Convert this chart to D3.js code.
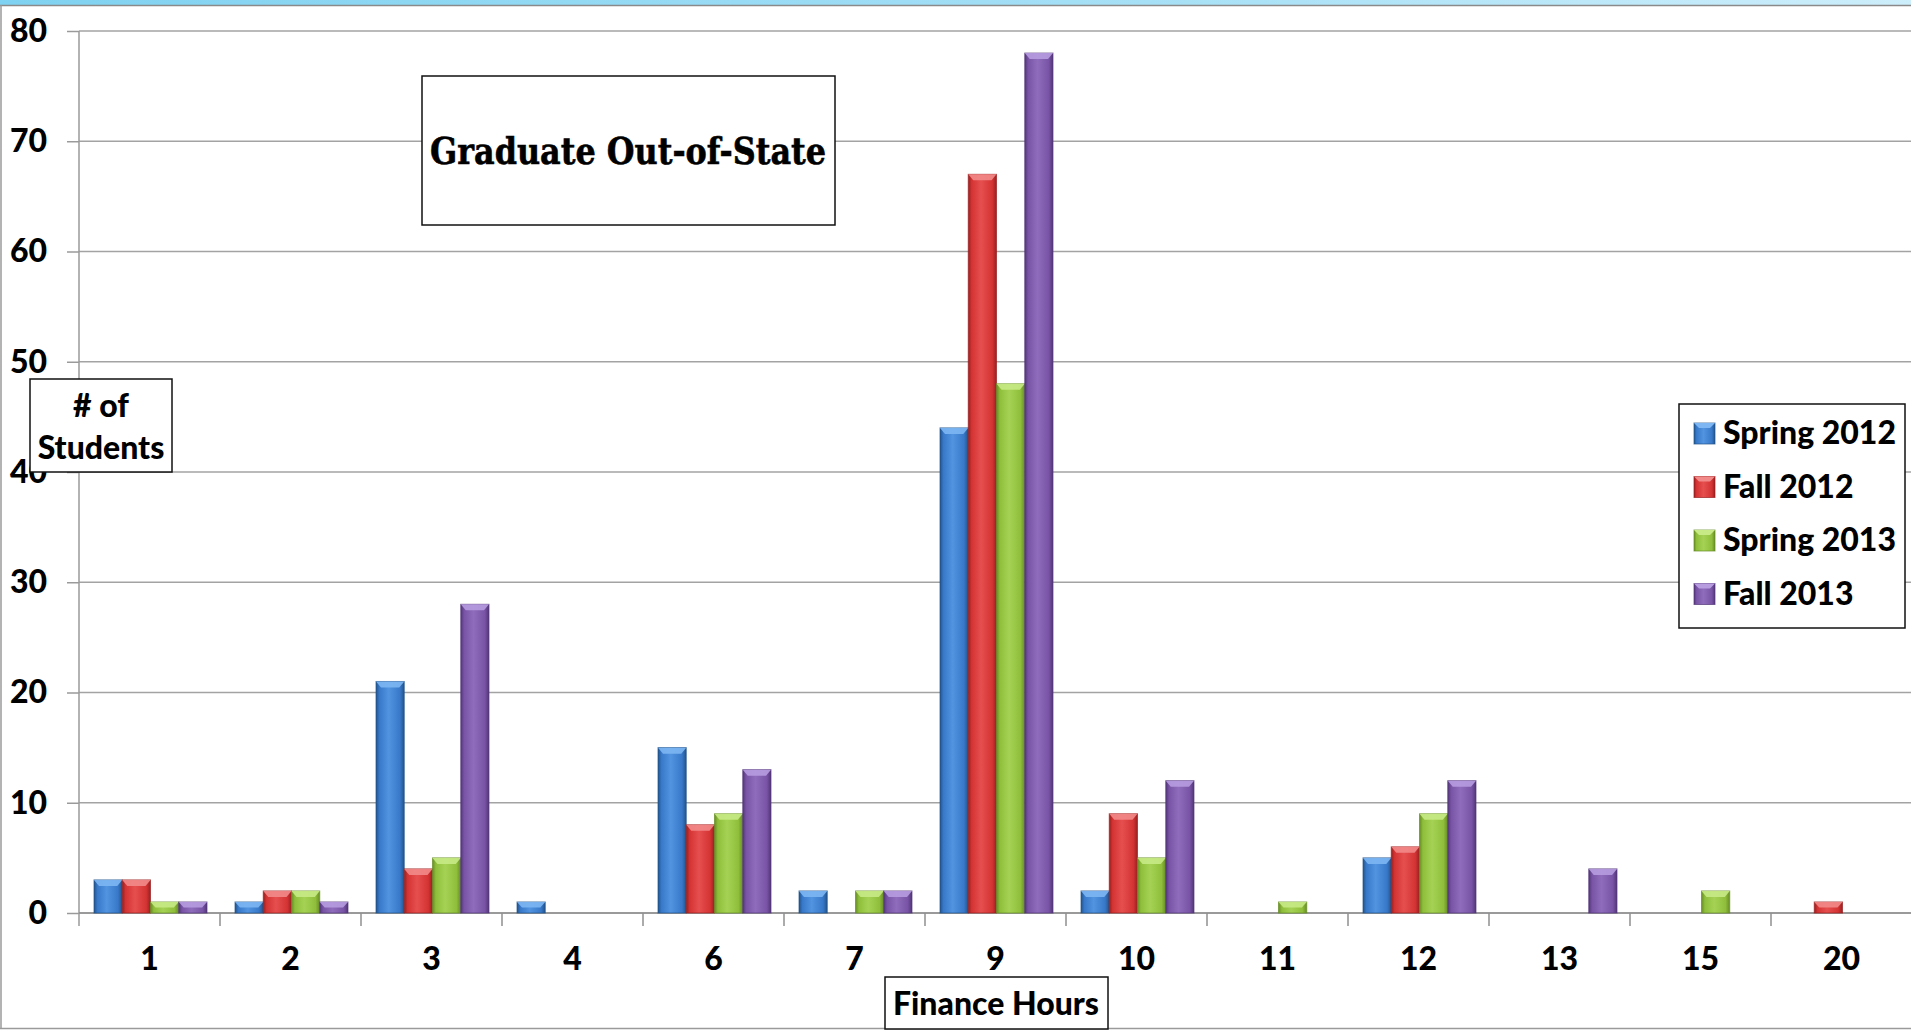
<!DOCTYPE html>
<html>
<head>
<meta charset="utf-8">
<script src="https://cdn.jsdelivr.net/npm/d3@7"></script>
<style>
  html, body { margin: 0; padding: 0; background: #fff; }
  svg { display: block; }
  text { font-family: Lato, "Open Sans", sans-serif; font-weight: 900; fill: #000; }
</style>
</head>
<body>
<svg id="chart" width="1911" height="1031"></svg>
<script>
// Enrolled finance credit hours (categories) and student counts per term
const hours = ["1", "2", "3", "4", "6", "7", "9", "10", "11", "12", "13", "15", "20"];
const terms = ["Spring 2012", "Fall 2012", "Spring 2013", "Fall 2013"];
const spring2012 = [3, 1, 21, 1, 15, 2, 44, 2, 0, 5, 0, 0, 0];
const fall2012   = [3, 2, 4, 0, 8, 0, 67, 9, 0, 6, 0, 0, 1];
const spring2013 = [1, 2, 5, 0, 9, 2, 48, 5, 1, 9, 0, 2, 0];
const fall2013   = [1, 1, 28, 0, 13, 2, 78, 12, 0, 12, 4, 0, 0];
const yTicks = [0, 10, 20, 30, 40, 50, 60, 70, 80];

const seriesValues = [spring2012, fall2012, spring2013, fall2013];
const palette = [
  { base: "#3878c9", dark: "#22548a", light: "#5294e0", cap: "#7db6f2" },
  { base: "#d43333", dark: "#982020", light: "#e64f4f", cap: "#f28a8a" },
  { base: "#8fbe3b", dark: "#668d25", light: "#a5d254", cap: "#c8ea86" },
  { base: "#7954a6", dark: "#523678", light: "#8f6dbc", cap: "#b79ce0" }
];

const svg = d3.select("#chart");
const W = 1911, H = 1031;
const plot = { left: 79, right: 1912, top: 31, bottom: 913 };
const labelSize = 32;

// Frame: light-blue strip on top, thin grey borders
const defs = svg.append("defs");
const strip = defs.append("linearGradient").attr("id", "strip").attr("x1", 0).attr("x2", 1);
strip.append("stop").attr("offset", 0).attr("stop-color", "#7fd2f1");
strip.append("stop").attr("offset", 0.6).attr("stop-color", "#a6e0f6");
strip.append("stop").attr("offset", 1).attr("stop-color", "#cdeefb");
svg.append("rect").attr("x", 0).attr("y", 0).attr("width", W).attr("height", 5).attr("fill", "url(#strip)");
svg.append("line").attr("x1", 0).attr("x2", W).attr("y1", 5.5).attr("y2", 5.5).attr("stroke", "#8a8a8a").attr("stroke-width", 1.5);
svg.append("line").attr("x1", 1).attr("x2", 1).attr("y1", 5).attr("y2", 1029).attr("stroke", "#9a9a9a").attr("stroke-width", 1.5);
svg.append("line").attr("x1", 0).attr("x2", W).attr("y1", 1028.5).attr("y2", 1028.5).attr("stroke", "#9a9a9a").attr("stroke-width", 1.5);

// Bar gradients (cylindrical shading left-to-right)
palette.forEach((c, i) => {
  const g = defs.append("linearGradient").attr("id", "bar" + i).attr("x1", 0).attr("x2", 1).attr("y1", 0).attr("y2", 0);
  g.append("stop").attr("offset", 0).attr("stop-color", c.dark);
  g.append("stop").attr("offset", 0.12).attr("stop-color", c.base);
  g.append("stop").attr("offset", 0.45).attr("stop-color", c.light);
  g.append("stop").attr("offset", 0.85).attr("stop-color", c.base);
  g.append("stop").attr("offset", 1).attr("stop-color", c.dark);
});

const x0 = d3.scaleBand().domain(hours).range([plot.left, plot.right]).paddingInner(0).paddingOuter(0);
const x1 = d3.scaleBand().domain(terms).range([15, x0.bandwidth() - 13]).padding(0);
const y = d3.scaleLinear().domain([0, 80]).range([plot.bottom, plot.top]);

// Horizontal gridlines with short ticks left of the axis
const yAxis = d3.axisLeft(y).tickValues(yTicks).tickSize(12).tickPadding(20).tickFormat(d3.format("d"));
const gy = svg.append("g").attr("transform", `translate(${plot.left},0)`).call(yAxis);
gy.select(".domain").remove();
gy.selectAll(".tick line").attr("stroke", "#9a9a9a").attr("stroke-width", 1.5);
gy.selectAll(".tick text").attr("font-size", labelSize).attr("font-family", "Lato").attr("font-weight", 900).attr("fill", "#000");

svg.append("g").selectAll("line").data(yTicks).join("line")
  .attr("x1", plot.left).attr("x2", plot.right)
  .attr("y1", d => y(d)).attr("y2", d => y(d))
  .attr("stroke", "#a3a3a3").attr("stroke-width", 1.5);

// Axes lines
svg.append("line").attr("x1", plot.left).attr("x2", plot.left).attr("y1", plot.top).attr("y2", plot.bottom + 13)
  .attr("stroke", "#9a9a9a").attr("stroke-width", 1.5);

const xAxis = d3.axisBottom(x0).tickSize(0).tickPadding(34);
const gx = svg.append("g").attr("transform", `translate(0,${plot.bottom})`).call(xAxis);
gx.select(".domain").remove();
gx.selectAll(".tick text").attr("font-size", labelSize).attr("font-family", "Lato").attr("font-weight", 900).attr("fill", "#000");
svg.append("line").attr("x1", plot.left).attr("x2", plot.right).attr("y1", plot.bottom).attr("y2", plot.bottom)
  .attr("stroke", "#8f8f8f").attr("stroke-width", 1.5);
// Category boundary ticks
svg.append("g").selectAll("line").data(hours.slice(1)).join("line")
  .attr("x1", d => x0(d)).attr("x2", d => x0(d))
  .attr("y1", plot.bottom).attr("y2", plot.bottom + 13)
  .attr("stroke", "#8f8f8f").attr("stroke-width", 1.5);

// Bars
const barData = [];
hours.forEach((h, ci) => {
  terms.forEach((t, si) => {
    const v = seriesValues[si][ci];
    if (v > 0) barData.push({ hour: h, term: t, si, value: v });
  });
});
const bars = svg.append("g").selectAll("g").data(barData).join("g");
bars.append("rect")
  .attr("x", d => x0(d.hour) + x1(d.term))
  .attr("y", d => y(d.value))
  .attr("width", x1.bandwidth())
  .attr("height", d => y(0) - y(d.value))
  .attr("fill", d => "url(#bar" + d.si + ")")
  .attr("stroke", d => palette[d.si].dark)
  .attr("stroke-opacity", 0.7)
  .attr("stroke-width", 1);
// Bevelled cap on top of each bar
bars.append("path")
  .attr("d", d => {
    const xl = x0(d.hour) + x1(d.term), xr = xl + x1.bandwidth();
    const yt = y(d.value);
    const hgt = Math.min(6, (y(0) - yt) / 2);
    const ins = Math.min(5, hgt * 0.9);
    return `M${xl},${yt}L${xr},${yt}L${xr - ins},${yt + hgt}L${xl + ins},${yt + hgt}Z`;
  })
  .attr("fill", d => palette[d.si].cap)
  .attr("opacity", 0.9);

// Title box
svg.append("rect").attr("x", 422).attr("y", 76).attr("width", 413).attr("height", 149)
  .attr("fill", "#fff").attr("stroke", "#111").attr("stroke-width", 1.5);
svg.append("text").attr("x", 628).attr("y", 164).attr("text-anchor", "middle")
  .style("font-family", "'DejaVu Serif', 'Liberation Serif', serif").style("font-weight", 700)
  .attr("font-size", 37).attr("textLength", 396).attr("lengthAdjust", "spacingAndGlyphs")
  .attr("stroke", "#000").attr("stroke-width", 0.6)
  .text("Graduate Out-of-State");

// Y-axis title box
svg.append("rect").attr("x", 30).attr("y", 379).attr("width", 142).attr("height", 93)
  .attr("fill", "#fff").attr("stroke", "#111").attr("stroke-width", 1.5);
svg.append("text").attr("x", 101).attr("y", 417).attr("text-anchor", "middle").attr("font-size", 32).text("# of");
svg.append("text").attr("x", 101).attr("y", 459).attr("text-anchor", "middle").attr("font-size", 32).text("Students");

// X-axis title box
svg.append("rect").attr("x", 885).attr("y", 977).attr("width", 223).attr("height", 52)
  .attr("fill", "#fff").attr("stroke", "#111").attr("stroke-width", 1.5);
svg.append("text").attr("x", 996).attr("y", 1015).attr("text-anchor", "middle").attr("font-size", 32).text("Finance Hours");

// Legend
const lg = svg.append("g");
lg.append("rect").attr("x", 1679).attr("y", 404).attr("width", 226).attr("height", 224)
  .attr("fill", "#fff").attr("stroke", "#111").attr("stroke-width", 1.5);
const items = lg.selectAll("g.item").data(terms).join("g").attr("class", "item")
  .attr("transform", (d, i) => `translate(1694,${433 + i * 53.5})`);
items.append("rect").attr("x", 0).attr("y", -10).attr("width", 21).attr("height", 21)
  .attr("fill", (d, i) => "url(#bar" + i + ")").attr("stroke", (d, i) => palette[i].dark).attr("stroke-opacity", 0.7);
items.append("path").attr("d", "M0,-10L21,-10L16,-5L5,-5Z").attr("fill", (d, i) => palette[i].cap);
items.append("text").attr("x", 29).attr("y", 11).attr("font-size", 32).text(d => d);
</script>
</body>
</html>
